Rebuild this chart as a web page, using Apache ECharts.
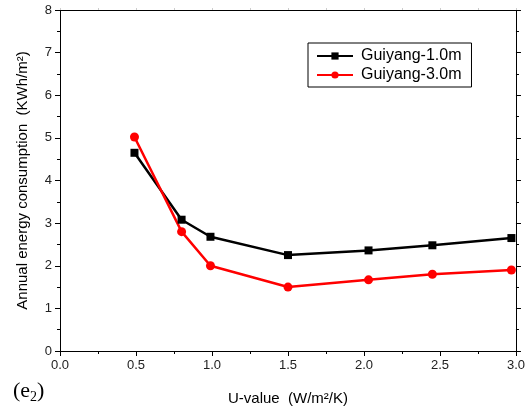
<!DOCTYPE html>
<html>
<head>
<meta charset="utf-8">
<script src="https://cdn.jsdelivr.net/npm/echarts@6/dist/echarts.min.js"></script>
<style>
  html, body { margin: 0; padding: 0; background: #fff; }
  #chart { width: 528px; height: 412px; }
</style>
</head>
<body>
<div id="chart"></div>
<script>
  // U-value (W/m2/K) and annual energy consumption (KWh/m2)
  let uValues = [0.49, 0.8, 0.99, 1.5, 2.03, 2.45, 2.97]
  let guiyang1 = [4.65, 3.08, 2.68, 2.25, 2.36, 2.48, 2.65]
  let guiyang3 = [5.02, 2.8, 2.0, 1.5, 1.67, 1.8, 1.9]

  let toPairs = function (xs, ys) {
    return xs.map(function (x, i) { return [x, ys[i]] })
  }

  let font = 'Liberation Sans, Arial, sans-serif'
  let axisCommon = {
    axisLine: { show: true, onZero: false, lineStyle: { color: '#000', width: 1 } },
    axisTick: { show: true, inside: false, length: 5, lineStyle: { color: '#000' } },
    minorTick: { show: true, splitNumber: 2, length: 3, lineStyle: { color: '#000' } },
    splitLine: { show: false },
    axisLabel: { color: '#222', fontSize: 13, fontFamily: font }
  }

  let myChart = echarts.init(document.getElementById('chart'))
  let option = {
    animation: false,
    grid: { left: 60, right: 12, top: 10, bottom: 61 },
    legend: {
      orient: 'vertical',
      left: 308,
      top: 43,
      padding: [5, 10, 4, 8],
      itemGap: 3,
      itemWidth: 36,
      itemHeight: 9,
      borderColor: '#000',
      borderWidth: 1,
      textStyle: { color: '#000', fontSize: 16, fontFamily: font, padding: [0, 0, 0, 3] },
      data: ['Guiyang-1.0m', 'Guiyang-3.0m']
    },
    xAxis: [
      Object.assign({}, axisCommon, {
        type: 'value',
        min: 0,
        max: 3,
        interval: 0.5,
        name: 'U-value  (W/m²/K)',
        nameLocation: 'middle',
        nameGap: 40,
        nameTextStyle: { color: '#000', fontSize: 15, fontFamily: font },
        axisLabel: Object.assign({}, axisCommon.axisLabel, {
          formatter: function (v) { return v.toFixed(1) }
        })
      }),
      Object.assign({}, axisCommon, {
        type: 'value',
        position: 'top',
        min: 0,
        max: 3,
        interval: 0.5,
        axisTick: { show: true, inside: false, length: 2, lineStyle: { color: '#ccc' } },
        minorTick: { show: true, splitNumber: 2, length: 2, lineStyle: { color: '#ccc' } },
        axisLabel: { show: false }
      })
    ],
    yAxis: [
      Object.assign({}, axisCommon, {
        type: 'value',
        min: 0,
        max: 8,
        interval: 1,
        name: 'Annual energy consumption  (KWh/m²)',
        nameLocation: 'middle',
        nameGap: 30,
        nameTextStyle: { color: '#000', fontSize: 15, fontFamily: font }
      }),
      Object.assign({}, axisCommon, {
        type: 'value',
        position: 'right',
        min: 0,
        max: 8,
        interval: 1,
        axisTick: { show: true, inside: false, length: 5, lineStyle: { color: '#000' } },
        axisLabel: { show: false }
      })
    ],
    graphic: [
      {
        type: 'text',
        left: 13,
        top: 380,
        style: {
          text: '{a|(e}{b|2}{a|)}',
          rich: {
            a: { fontFamily: 'Liberation Serif, Times New Roman, serif', fontSize: 22, fill: '#000' },
            b: { fontFamily: 'Liberation Serif, Times New Roman, serif', fontSize: 14, fill: '#000', verticalAlign: 'bottom', padding: [12, 0, 0, 0] }
          }
        }
      }
    ],
    series: [
      {
        name: 'Guiyang-1.0m',
        type: 'line',
        data: toPairs(uValues, guiyang1),
        symbol: 'rect',
        symbolSize: 8,
        lineStyle: { color: '#000', width: 2.5 },
        itemStyle: { color: '#000' }
      },
      {
        name: 'Guiyang-3.0m',
        type: 'line',
        data: toPairs(uValues, guiyang3),
        symbol: 'circle',
        symbolSize: 9,
        lineStyle: { color: '#ff0000', width: 2.5 },
        itemStyle: { color: '#ff0000' }
      }
    ]
  }
  myChart.setOption(option)
</script>
</body>
</html>
